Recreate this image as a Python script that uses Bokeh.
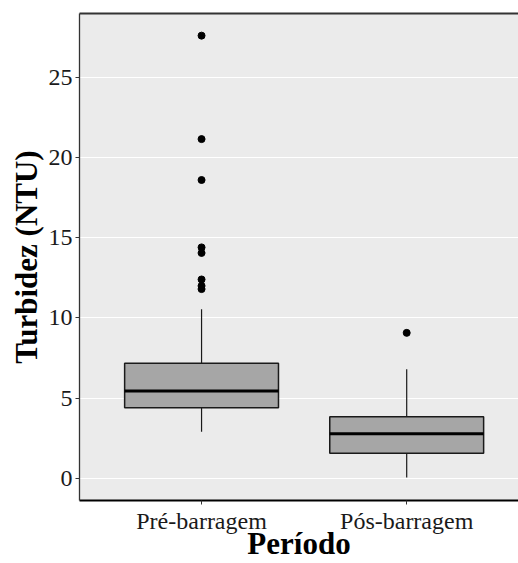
from bokeh.plotting import figure
from bokeh.models import Range1d, FixedTicker, LinearAxis, ColumnDataSource
from bokeh.embed import file_html
from bokeh.resources import INLINE

categories = ["Pré-barragem", "Pós-barragem"]
q1 = [4.40, 1.56]
median = [5.44, 2.78]
q3 = [7.18, 3.84]
whisk_low = [2.90, 0.05]
whisk_high = [10.54, 6.81]
outliers_pre = [27.6, 21.15, 18.6, 14.4, 14.05, 12.4, 12.0, 11.8]
outliers_pos = [9.07]
y_ticks = [0, 5, 10, 15, 20, 25]

SERIF = "Liberation Serif"
xpos = [i + 1 for i in range(len(categories))]
box_w = 0.75

p = figure(width=518, height=563, output_backend="svg", toolbar_location=None,
           x_range=Range1d(0.405, 2.545), y_range=Range1d(-1.38, 28.98),
           min_border_left=79, min_border_right=0, min_border_top=13, min_border_bottom=63)
p.background_fill_color = "#EBEBEB"
p.border_fill_color = "white"
p.outline_line_color = None

# grid
p.xgrid.grid_line_color = None
p.ygrid.grid_line_color = "white"
p.ygrid.grid_line_width = 1.2
p.ygrid.ticker = FixedTicker(ticks=y_ticks)

# axes
p.yaxis.ticker = FixedTicker(ticks=y_ticks)
p.xaxis.ticker = FixedTicker(ticks=xpos)
p.xaxis.major_label_overrides = {x: c for x, c in zip(xpos, categories)}
for ax in (p.xaxis[0], p.yaxis[0]):
    ax.major_label_text_font = SERIF
    ax.major_label_text_font_size = "24px"
    ax.major_label_text_color = "#1a1a1a"
    ax.major_tick_out = 4
    ax.major_tick_in = 0
    ax.minor_tick_line_color = None
    ax.major_tick_line_color = "#333333"
    ax.major_label_standoff = 3
    ax.axis_label_text_font = SERIF
    ax.axis_label_text_font_style = "bold"
    ax.axis_label_text_font_size = "31px"
    ax.axis_label_text_color = "black"
p.yaxis.axis_line_color = "#333333"
p.yaxis.axis_line_width = 1.3
p.xaxis.axis_line_color = "black"
p.xaxis.axis_line_width = 2
p.yaxis.axis_label = "Turbidez (NTU)"
p.yaxis.axis_label_standoff = 2
p.xaxis.axis_label = "Período"
p.xaxis.axis_label_standoff = -11

top_ax = LinearAxis(ticker=FixedTicker(ticks=[]), axis_line_color="#333333", axis_line_width=2,
                    major_label_text_font_size="0px", major_tick_out=0, major_tick_in=0,
                    minor_tick_out=0, minor_tick_in=0, major_label_standoff=0)
p.add_layout(top_ax, "above")

# boxplot
src = ColumnDataSource(dict(x=xpos, q1=q1, q3=q3, med=median, lo=whisk_low, hi=whisk_high,
                            x0=[x - box_w / 2 for x in xpos], x1=[x + box_w / 2 for x in xpos]))
p.segment(x0="x", y0="q3", x1="x", y1="hi", source=src, line_color="#1a1a1a", line_width=1.2)
p.segment(x0="x", y0="q1", x1="x", y1="lo", source=src, line_color="#1a1a1a", line_width=1.2)
p.vbar(x="x", bottom="q1", top="q3", width=box_w, source=src,
       fill_color="#A6A6A6", line_color="#1a1a1a", line_width=1.5)
p.segment(x0="x0", y0="med", x1="x1", y1="med", source=src, line_color="black", line_width=3)

p.scatter([xpos[0]] * len(outliers_pre), outliers_pre, size=7, color="black")
p.scatter([xpos[1]] * len(outliers_pos), outliers_pos, size=7, color="black")

open("out.html", "w").write(file_html(p, INLINE))
